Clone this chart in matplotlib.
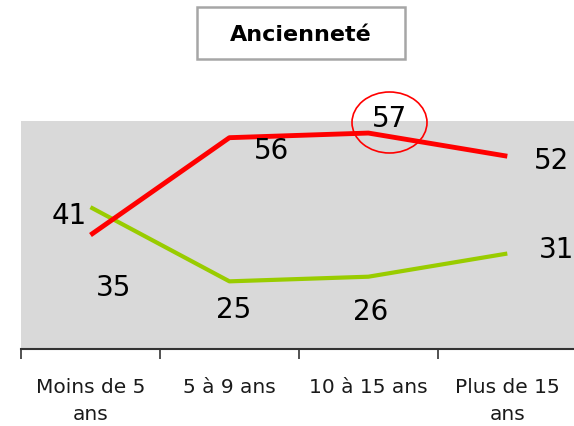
# Ancienneté - courbes
import matplotlib
matplotlib.use("Agg")
from matplotlib import pyplot as plt
from matplotlib.patches import Rectangle, Ellipse
from matplotlib.ticker import FixedLocator

plt.rcParams['font.family'] = ['DejaVu Sans']

# données
categories = ["Moins de 5\nans", "5 à 9 ans", "10 à 15 ans", "Plus de 15\nans"]
rouge = [35, 56, 57, 52]
vert = [41, 25, 26, 31]

# décalage des étiquettes (pixels)
off_rouge = [(23, -53), (42, -13), (21, 14), (44, -5)]
off_vert = [(-21, -9), (4, -29), (2, -35), (49, 4)]

fig = plt.figure(figsize=(5.74, 4.26), dpi=100)
ax = fig.add_axes([21 / 574, 1 - 349 / 426, 1 - 21 / 574, (349 - 121) / 426])
ax.set_facecolor("#d9d9d9")

x = range(len(categories))
ax.plot(x, vert, color="#99cc00", lw=3.0, solid_capstyle="butt", clip_on=False)
ax.plot(x, rouge, color="#ff0000", lw=3.5, solid_capstyle="butt", clip_on=False)

for i, v in enumerate(rouge):
    ax.annotate(str(v), (i, v), xytext=off_rouge[i], textcoords="offset pixels",
                ha="center", va="center", fontsize=20, color="black", annotation_clip=False)
for i, v in enumerate(vert):
    ax.annotate(str(v), (i, v), xytext=off_vert[i], textcoords="offset pixels",
                ha="center", va="center", fontsize=20, color="black", annotation_clip=False)

ax.set_xlim(-0.5, 3.48)
ax.set_ylim(10.4, 59.6)
ax.set_yticks([])
ax.set_xticks(list(x))
ax.set_xticklabels(categories, fontsize=14.5, color="#1a1a1a", linespacing=1.5)
ax.tick_params(axis="x", which="major", length=0, pad=21)
ax.xaxis.set_minor_locator(FixedLocator([-0.5, 0.5, 1.5, 2.5]))
ax.tick_params(axis="x", which="minor", length=7, width=1.2, color="#333333")
for s in ["top", "left", "right"]:
    ax.spines[s].set_visible(False)
ax.spines["bottom"].set_color("#333333")
ax.spines["bottom"].set_linewidth(1.5)

# titre encadré
fig.patches.append(Rectangle((197 / 574, 1 - 59 / 426), 208 / 574, 52 / 426,
                             transform=fig.transFigure, facecolor="white",
                             edgecolor="#a6a6a6", lw=1.8))
fig.text(301 / 574, 1 - 35 / 426, "Ancienneté", ha="center", va="center",
         fontsize=16, fontweight="bold", color="black")

# cercle autour du maximum
fig.patches.append(Ellipse((389.5 / 574, 1 - 122.5 / 426), 75 / 574, 61 / 426,
                           transform=fig.transFigure, facecolor="none",
                           edgecolor="#ff0000", lw=1.2))

plt.savefig("out.png", dpi=100)
